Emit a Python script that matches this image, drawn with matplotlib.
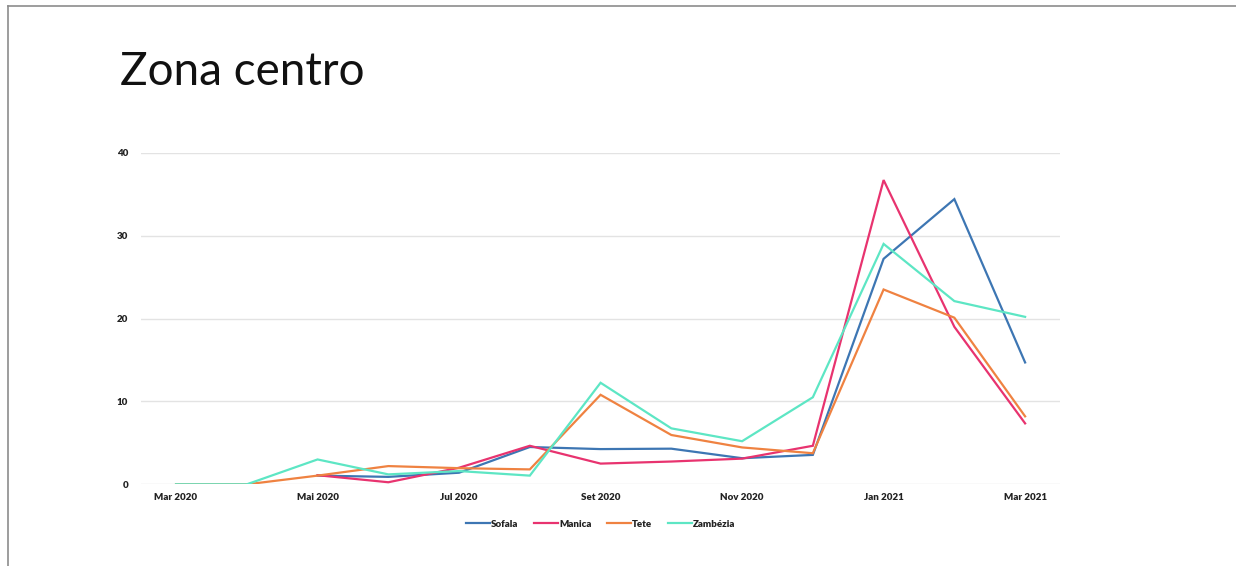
import numpy as np
import matplotlib
matplotlib.use("Agg")
import matplotlib.pyplot as plt
from matplotlib.lines import Line2D

# Meses (eixo x), só se mostram os rótulos de dois em dois meses
meses = ["Mar 2020", "Abr 2020", "Mai 2020", "Jun 2020", "Jul 2020", "Ago 2020",
         "Set 2020", "Out 2020", "Nov 2020", "Dez 2020", "Jan 2021", "Fev 2021", "Mar 2021"]
rotulos_x = ["Mar 2020", "Mai 2020", "Jul 2020", "Set 2020", "Nov 2020", "Jan 2021", "Mar 2021"]

# Valores (nan = sem dado)
sofala = [np.nan, np.nan, 1.05, 0.9, 1.4, 4.5, 4.25, 4.3, 3.15, 3.55, 27.2, 34.4, 14.7]
manica = [np.nan, np.nan, 1.1, 0.25, 2.0, 4.65, 2.5, 2.75, 3.1, 4.65, 36.7, 19.0, 7.35]
tete = [0.0, 0.0, 1.05, 2.2, 1.95, 1.8, 10.8, 5.95, 4.45, 3.75, 23.5, 20.1, 8.2]
zambezia = [0.0, 0.0, 3.0, 1.2, 1.6, 1.05, 12.25, 6.75, 5.2, 10.5, 29.0, 22.1, 20.2]

series = ["Sofala", "Manica", "Tete", "Zambézia"]
valores = [sofala, manica, tete, zambezia]
cores = ["#3d76b3", "#e8336f", "#ef8241", "#5de6c4"]

plt.rcParams['font.family'] = ['Lato', 'DejaVu Sans']

fig = plt.figure(figsize=(12.36, 5.66), dpi=100)
ax = fig.add_axes([0.1138, 0.1443, 0.7442, 0.5859])

x = np.arange(len(meses))
for nome, v, c in zip(series, valores, cores):
    ax.plot(x, v, color=c, lw=1.6, label=nome, solid_joinstyle='miter')

ax.set_xlim(-0.5, len(meses) - 0.5)
ax.set_ylim(0, 40)
ax.set_yticks([0, 10, 20, 30, 40])
ax.set_xticks([meses.index(m) for m in rotulos_x])
ax.set_xticklabels(rotulos_x)

for s in ax.spines.values():
    s.set_visible(False)
ax.tick_params(length=0, labelsize=7, labelcolor="#222222", pad=6)
ax.tick_params(axis='y', pad=9)
for t in ax.get_xticklabels() + ax.get_yticklabels():
    t.set_fontweight('heavy')
ax.grid(axis='y', color="#e3e3e3", lw=1)
ax.set_axisbelow(True)

leg = ax.legend(loc='upper center', bbox_to_anchor=(0.5, -0.08), ncol=4, frameon=False,
                handlelength=2.5, columnspacing=1.6, handletextpad=0.1,
                prop={'size': 7, 'weight': 'heavy'})
for t in leg.get_texts():
    t.set_color("#222222")

fig.text(120 / 1236, (566 - 85) / 566, "Zona centro", fontsize=33, color="#111111",
         va='baseline', ha='left', fontweight='normal')

# Bordas do slide (cima e esquerda)
fig.add_artist(Line2D([8 / 1236, 1], [1 - 6 / 566, 1 - 6 / 566], color="#8c8c8c", lw=1.2,
                      transform=fig.transFigure))
fig.add_artist(Line2D([8 / 1236, 8 / 1236], [0, 1 - 6 / 566], color="#8c8c8c", lw=1.2,
                      transform=fig.transFigure))

fig.savefig("out.png", dpi=100)
